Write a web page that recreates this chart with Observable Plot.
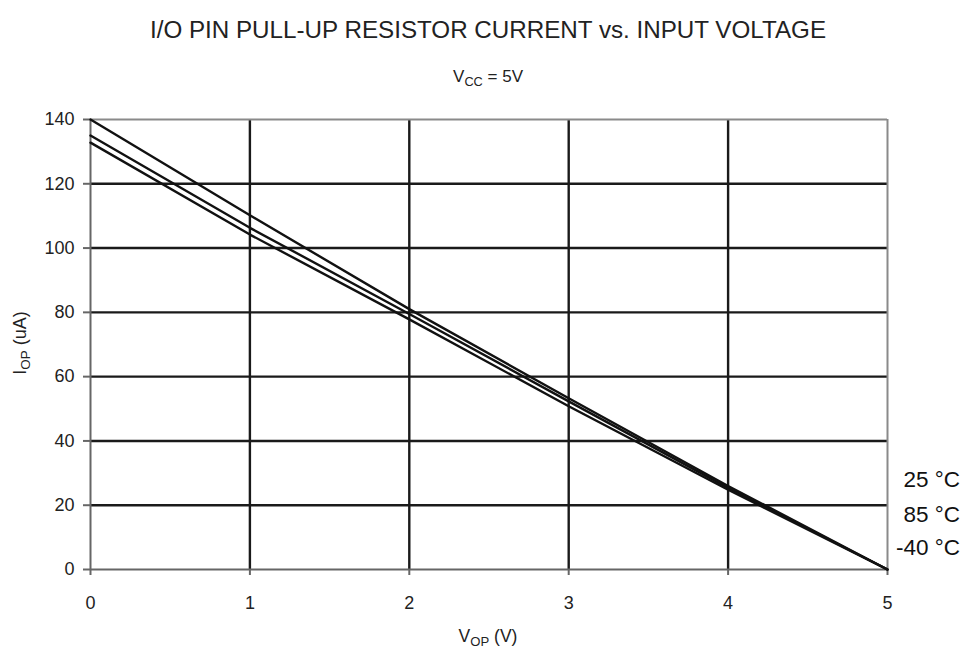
<!DOCTYPE html>
<html>
<head>
<meta charset="utf-8">
<script src="https://cdn.jsdelivr.net/npm/d3@7"></script>
<script src="https://cdn.jsdelivr.net/npm/@observablehq/plot@0.6"></script>
<style>
  html, body { margin: 0; padding: 0; background: #fff; }
  body { width: 966px; height: 652px; position: relative; font-family: "Liberation Sans", Arial, sans-serif; color: #222; overflow: hidden; }
  #title { position: absolute; left: 10px; width: 956px; top: 15px; text-align: center; font-size: 24.2px; line-height: 30px; }
  #subtitle { position: absolute; left: 10px; width: 956px; top: 65px; text-align: center; font-size: 17px; line-height: 24px; }
  #chart { position: absolute; left: 0; top: 100px; }
  #xlabel { position: absolute; left: 10px; width: 956px; top: 624px; text-align: center; font-size: 17.5px; line-height: 24px; }
  #ylabel { position: absolute; left: 20px; top: 343px; font-size: 18px; line-height: 22px; white-space: nowrap; transform: translate(-50%, -50%) rotate(-90deg); }
  sub { font-size: 0.75em; vertical-align: -0.3em; line-height: 0; }
  .temp { position: absolute; right: 6px; font-size: 22.5px; line-height: 26px; color: #111; text-align: right; }
</style>
</head>
<body>
<div id="title">I/O PIN PULL-UP RESISTOR CURRENT vs. INPUT VOLTAGE</div>
<div id="subtitle">V<sub>CC</sub> = 5V</div>
<div id="chart"></div>
<div id="xlabel">V<sub>OP</sub> (V)</div>
<div id="ylabel">I<sub>OP</sub> (uA)</div>
<script>
// Data
const volts = [0, 1, 2, 3, 4, 5];
const current25 = [140, 110.2, 81, 53.3, 26, 0];
const current85 = [135, 106.3, 79.5, 52.3, 25.4, 0];
const currentM40 = [132.8, 104.2, 77.8, 50.8, 24.8, 0];
const seriesNames = ["25 °C", "85 °C", "-40 °C"];
const xTicks = [0, 1, 2, 3, 4, 5];
const yTicks = [0, 20, 40, 60, 80, 100, 120, 140];

const seriesValues = [current25, current85, currentM40];
const data = [];
seriesNames.forEach((name, i) => {
  volts.forEach((v, j) => data.push({series: name, v, i: seriesValues[i][j]}));
});

const gridStyle = {stroke: "#1a1a1a", strokeOpacity: 1, strokeWidth: 2.4};
const frameStyle = {stroke: "#8a8a8a", strokeWidth: 2};

const chart = Plot.plot({
  width: 966,
  height: 552,
  marginLeft: 90,
  marginRight: 79,
  marginTop: 19,
  marginBottom: 83,
  style: {fontFamily: "Liberation Sans, Arial, sans-serif", fontSize: "18px", color: "#222", background: "white"},
  x: {domain: [0, 5], label: null},
  y: {domain: [0, 140], label: null},
  marks: [
    Plot.gridX(xTicks.filter(d => d > 0 && d < 5), gridStyle),
    Plot.gridY(yTicks.filter(d => d > 0 && d < 140), gridStyle),
    Plot.ruleY([140], frameStyle),
    Plot.ruleX([5], frameStyle),
    Plot.ruleX([0], {stroke: "#666", strokeWidth: 2}),
    Plot.ruleY([0], {stroke: "#666", strokeWidth: 2}),
    Plot.axisX({ticks: xTicks, tickFormat: d3.format("d"), tickSize: 6, tickPadding: 21, stroke: "#666", strokeWidth: 2, fontSize: 18, label: null}),
    Plot.axisY({ticks: yTicks, tickFormat: d3.format("d"), tickSize: 7, tickPadding: 9, stroke: "#666", strokeWidth: 2, fontSize: 18, label: null}),
    Plot.line(data, {x: "v", y: "i", z: "series", stroke: "#111", strokeWidth: 2.4})
  ]
});
document.getElementById("chart").appendChild(chart);

// temperature labels in the right margin, stacked from the top
const tempTops = [467, 502, 535];
seriesNames.forEach((name, i) => {
  const d = document.createElement("div");
  d.className = "temp";
  d.style.top = tempTops[i] + "px";
  d.textContent = name;
  document.body.appendChild(d);
});
</script>
</body>
</html>
